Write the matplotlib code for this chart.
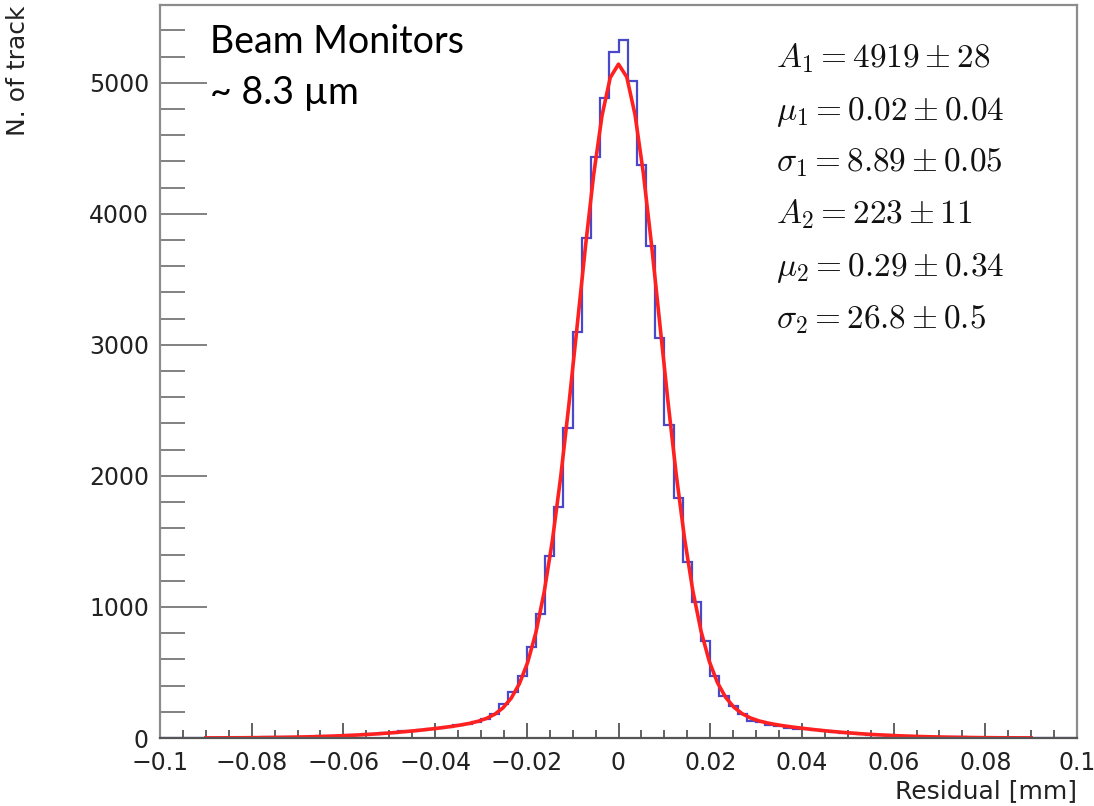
import matplotlib
matplotlib.use("Agg")
import matplotlib.pyplot as plt
import numpy as np
from matplotlib.ticker import MultipleLocator

# histogram: 100 bins of 0.002 mm between -0.1 and 0.1
x_lo, x_hi, n_bins = -0.1, 0.1, 100

# counts, left to right
counts_neg = [0, 1, 0, 1, 1, 2, 1, 2, 3, 2,
              3, 4, 6, 5, 7, 9, 10, 12, 14, 18,
              20, 24, 29, 31, 38, 41, 50, 53, 63, 68,
              79, 86, 97, 104, 122, 145, 183, 262, 352, 474,
              691, 946, 1392, 1762, 2367, 3101, 3818, 4430, 4886, 5238]
counts_pos = [5327, 5014, 4369, 3757, 3053, 2387, 1834, 1341, 1041, 742,
              474, 321, 245, 183, 132, 124, 101, 93, 76, 72,
              66, 58, 52, 44, 40, 36, 30, 26, 22, 20,
              16, 14, 11, 10, 8, 6, 6, 4, 3, 3,
              2, 2, 1, 2, 1, 1, 0, 1, 0, 0]

# double gaussian fit (x in um)
fit_A = [4919, 223]
fit_mu = [0.02, 0.29]
fit_sigma = [8.89, 26.8]
fit_lo, fit_hi = -0.09, 0.09

par_names = [r"A_{1}", r"\mu_{1}", r"\sigma_{1}", r"A_{2}", r"\mu_{2}", r"\sigma_{2}"]
par_vals = ["4919", "0.02", "8.89", "223", "0.29", "26.8"]
par_errs = ["28", "0.04", "0.05", "11", "0.34", "0.5"]

x_ticks = [-0.1, -0.08, -0.06, -0.04, -0.02, 0, 0.02, 0.04, 0.06, 0.08, 0.1]
x_tick_labels = ["\u22120.1", "\u22120.08", "\u22120.06", "\u22120.04", "\u22120.02", "0",
                 "0.02", "0.04", "0.06", "0.08", "0.1"]
y_ticks = [0, 1000, 2000, 3000, 4000, 5000]

counts = np.array(counts_neg + counts_pos, dtype=float)
edges = np.linspace(x_lo, x_hi, n_bins + 1)

x_fit = np.linspace(fit_lo, fit_hi, 101)
u = x_fit * 1000.0
y_fit = np.zeros_like(u)
for a, m, s in zip(fit_A, fit_mu, fit_sigma):
    y_fit += a * np.exp(-0.5 * ((u - m) / s) ** 2)

plt.rcParams["font.family"] = ["DejaVu Sans"]
plt.rcParams["mathtext.fontset"] = "cm"

fig = plt.figure(figsize=(10.94, 8.06), dpi=100)
ax = fig.add_axes([160 / 1094, 68 / 806, 917 / 1094, 733 / 806])

ax.stairs(counts, edges, color="#4848c8", lw=1.6)
ax.plot(x_fit, y_fit, color="#ff2020", lw=2.6)

ax.set_xlim(x_lo, x_hi)
ax.set_ylim(0, 1.05 * counts.max())

ax.set_xticks(x_ticks)
ax.set_xticklabels(x_tick_labels)
ax.set_yticks(y_ticks)
ax.xaxis.set_minor_locator(MultipleLocator(0.005))
ax.yaxis.set_minor_locator(MultipleLocator(200))

ax.tick_params(axis="x", which="major", direction="in", length=11, width=1.3,
               color="#555555", labelsize=17, pad=9, top=False)
ax.tick_params(axis="x", which="minor", direction="in", length=5.5, width=1.3,
               color="#555555", top=False)
ax.tick_params(axis="y", which="major", direction="in", length=34, width=1.3,
               color="#777777", labelsize=17, pad=8, right=False)
ax.tick_params(axis="y", which="minor", direction="in", length=18, width=1.3,
               color="#777777", right=False)
for lab in ax.get_xticklabels() + ax.get_yticklabels():
    lab.set_color("#222222")

for side in ["left", "right", "top", "bottom"]:
    ax.spines[side].set_color("#8c8c8c")
    ax.spines[side].set_linewidth(1.6)
ax.spines["bottom"].set_color("#555555")

ax.set_xlabel("Residual [mm]", fontsize=18, loc="right", color="#222222")
ax.xaxis.set_label_coords(1.0, -0.056)
ax.set_ylabel("N. of track", fontsize=18, loc="top", color="#222222")
ax.yaxis.set_label_coords(-0.142, 1.0)

# fit results
line_y = [58, 112, 163, 214, 268, 320]
for name, val, err, yp in zip(par_names, par_vals, par_errs, line_y):
    ax.text(0.672, (738 - yp) / 733, rf"${name} = {val} \pm {err}$",
            transform=ax.transAxes, fontsize=24, va="center", ha="left",
            color="#111111")

ax.text(0.054, 0.95, "Beam Monitors", transform=ax.transAxes, fontsize=27,
        family=["Lato", "DejaVu Sans"], va="center", ha="left", color="black")
ax.text(0.054, 0.88, "~ 8.3 \u00b5m", transform=ax.transAxes, fontsize=27,
        family=["Lato", "DejaVu Sans"], va="center", ha="left", color="black")

fig.savefig("out.png", dpi=100)
